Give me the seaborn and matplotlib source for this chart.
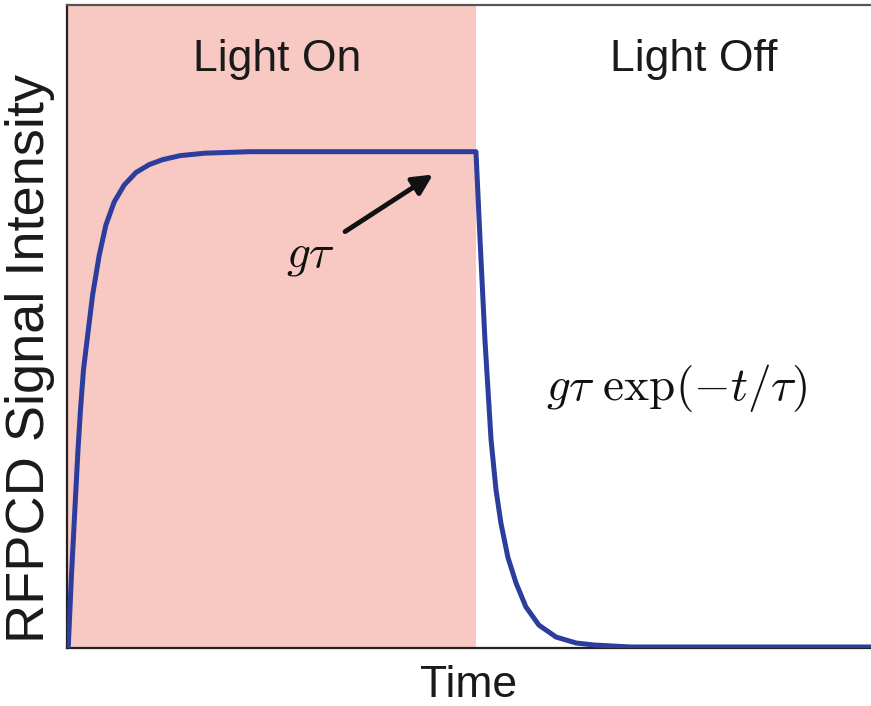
import matplotlib
matplotlib.use("Agg")
import matplotlib.pyplot as plt
import seaborn as sns
import pandas as pd

# Normalised time (light switched off at t = 1) and signal (plateau g*tau = 1)
rise_t = [0.0, 0.003, 0.011, 0.0196, 0.0269, 0.033, 0.0403, 0.0489, 0.0628, 0.079,
          0.0954, 0.1156, 0.140, 0.1687, 0.201, 0.234, 0.276, 0.337, 0.447, 0.75, 1.0]
rise_s = [0.0, 0.0, 0.147, 0.284, 0.399, 0.480, 0.560, 0.619, 0.712, 0.792,
          0.853, 0.899, 0.933, 0.958, 0.974, 0.984, 0.992, 0.997, 1.0, 1.0, 1.0]

decay_t = [1.0, 1.005, 1.010, 1.022, 1.037, 1.049, 1.061, 1.078, 1.098, 1.122,
           1.154, 1.196, 1.245, 1.289, 1.377, 1.6, 1.966]
decay_s = [1.0, 0.913, 0.823, 0.621, 0.419, 0.319, 0.252, 0.183, 0.131, 0.083,
           0.046, 0.022, 0.010, 0.006, 0.002, 0.002, 0.002]

light_off_time = 1.0
x_max = 1.966
y_max = 1.296

df = pd.DataFrame({
    "Time": rise_t + decay_t[1:],
    "Signal": rise_s + decay_s[1:],
})

sns.set_theme(style="white")
plt.rcParams["mathtext.fontset"] = "cm"
plt.rcParams["font.family"] = ["Liberation Sans", "DejaVu Sans"]

fig = plt.figure(figsize=(8.71, 7.06), dpi=100)
ax = fig.add_axes([0.0769, 0.0822, 0.9231, 0.911])

ax.axvspan(0, light_off_time, color="#f8c8c3", lw=0, zorder=0)

sns.lineplot(data=df, x="Time", y="Signal", ax=ax, color="#2c3d9e",
             linewidth=3.6, sort=False, estimator=None, zorder=3,
             solid_joinstyle="round", solid_capstyle="round")

ax.set_xlim(0, x_max)
ax.set_ylim(0, y_max)
ax.set_xticks([])
ax.set_yticks([])

for side in ["left", "bottom"]:
    ax.spines[side].set_color("#222222")
    ax.spines[side].set_linewidth(1.6)
ax.spines["top"].set_color("#555555")
ax.spines["top"].set_linewidth(1.6)
ax.spines["right"].set_visible(False)

ax.set_xlabel("Time", fontsize=32, color="#1a1a1a", va="baseline")
ax.xaxis.set_label_coords(0.5, -0.0762)
ax.set_ylabel("RFPCD Signal Intensity", fontsize=39, color="#1a1a1a")
ax.yaxis.set_label_coords(-0.015, 0.45)

ax.text(0.513, 1.185, "Light On", fontsize=32, ha="center", va="center", color="#1a1a1a")
ax.text(1.533, 1.185, "Light Off", fontsize=32, ha="center", va="center", color="#1a1a1a")

ax.text(0.594, 0.79, r"$g\tau$", fontsize=34, ha="center", va="center", color="#111111")
ax.annotate("", xy=(0.895, 0.954), xytext=(0.680, 0.839),
            arrowprops=dict(arrowstyle="-|>", color="#111111", lw=3.5,
                            mutation_scale=30, shrinkA=0, shrinkB=0))

ax.text(1.491, 0.524, r"$g\tau\ \exp(-t/\tau)$", fontsize=34,
        ha="center", va="center", color="#111111")

fig.savefig("out.png", dpi=100)
